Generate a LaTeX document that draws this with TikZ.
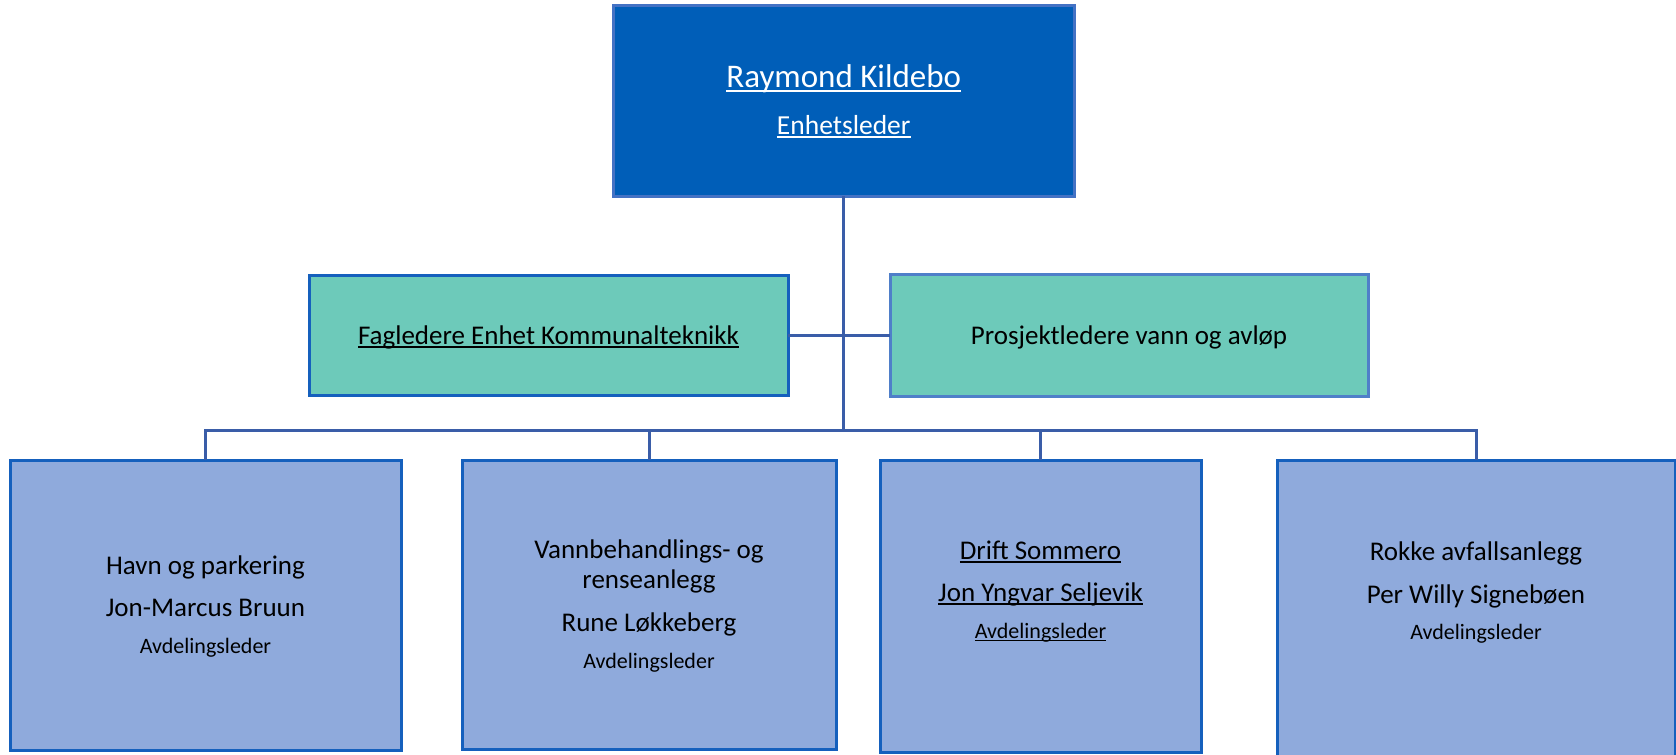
\documentclass[tikz,border=0pt]{standalone}
\usepackage{fontspec}
\setmainfont{Carlito}
\newcommand\myul[1]{\setbox0\hbox{#1}\rlap{\rule[-0.14em]{\wd0}{0.06em}}\box0}
\definecolor{topfill}{HTML}{005EB8}
\definecolor{topborder}{HTML}{4472C4}
\definecolor{greenfill}{HTML}{6DCABA}
\definecolor{bluefill}{HTML}{8FAADC}
\definecolor{boxborder}{HTML}{1560BD}
\definecolor{lightborder}{HTML}{4F7FC9}
\definecolor{linecol}{HTML}{3A5DA8}
\tikzset{
  box/.style={draw=boxborder, line width=3pt, rectangle, inner sep=0pt, outer sep=0pt},
  topbox/.style={box, fill=topfill, draw=topborder},
  greenbox/.style={box, fill=greenfill},
  deptbox/.style={box, fill=bluefill},
  conn/.style={draw=linecol, line width=3pt},
  txt/.style={anchor=base, inner sep=0pt, text=black, font=\fontsize{27}{32}\selectfont},
  small/.style={txt, font=\fontsize{22}{26}\selectfont},
}
\begin{document}
\begin{tikzpicture}[x=1pt,y=-1pt]
\useasboundingbox (0,0) rectangle (1676,755);
% boxes
\node[topbox, minimum width=460.5pt, minimum height=191pt] (top) at (843.75,100.5) {};
\node[greenbox, minimum width=479pt, minimum height=120pt] (lg) at (548.5,335) {};
\node[greenbox, draw=lightborder, minimum width=478pt, minimum height=122pt] (rg) at (1129,335.5) {};
\node[deptbox, minimum width=391pt, minimum height=290pt] (b1) at (205.5,605) {};
\node[deptbox, minimum width=374pt, minimum height=289pt] (b2) at (649,604.5) {};
\node[deptbox, minimum width=321pt, minimum height=292pt] (b3) at (1040.5,606) {};
\node[deptbox, minimum width=398pt, minimum height=300pt] (b4) at (1476,610) {};
% connectors
\coordinate (bus) at (843.75,430);
\draw[conn] (top.south) -- (bus);
\draw[conn] (lg.east) -- (lg.east -| rg.west);
\draw[conn] (b1.north) |- (bus) -| (b4.north);
\draw[conn] (b2.north) -- (b2.north |- bus);
\draw[conn] (b3.north) -- (b3.north |- bus);
% texts
\node[txt, text=white, font=\fontsize{33}{38}\selectfont] (t1) at (843.75,87) {\myul{Raymond Kildebo}};
\node[txt, text=white, font=\fontsize{27.5}{32}\selectfont] (t2) at (843.75,134) {\myul{Enhetsleder}};
\node[txt] (lgt) at (548.5,344) {\myul{Fagledere Enhet Kommunalteknikk}};
\node[txt] (rgt) at (1129,344) {Prosjektledere vann og avløp};
\node[txt] (b1a) at (205.5,574) {Havn og parkering};
\node[txt] (b1b) at (205.5,616) {Jon-Marcus Bruun};
\node[small] (b1c) at (205.5,653) {Avdelingsleder};
\node[txt] (b2a) at (649,558) {Vannbehandlings- og};
\node[txt] (b2b) at (649,588) {renseanlegg};
\node[txt] (b2c) at (649,631) {Rune Løkkeberg};
\node[small] (b2d) at (649,668) {Avdelingsleder};
\node[txt] (b3a) at (1040.5,559) {\myul{Drift Sommero}};
\node[txt] (b3b) at (1040.5,601) {\myul{Jon Yngvar Seljevik}};
\node[small] (b3c) at (1040.5,638) {\myul{Avdelingsleder}};
\node[txt] (b4a) at (1476,560) {Rokke avfallsanlegg};
\node[txt] (b4b) at (1476,603) {Per Willy Signebøen};
\node[small] (b4c) at (1476,639) {Avdelingsleder};
\end{tikzpicture}
\end{document}
